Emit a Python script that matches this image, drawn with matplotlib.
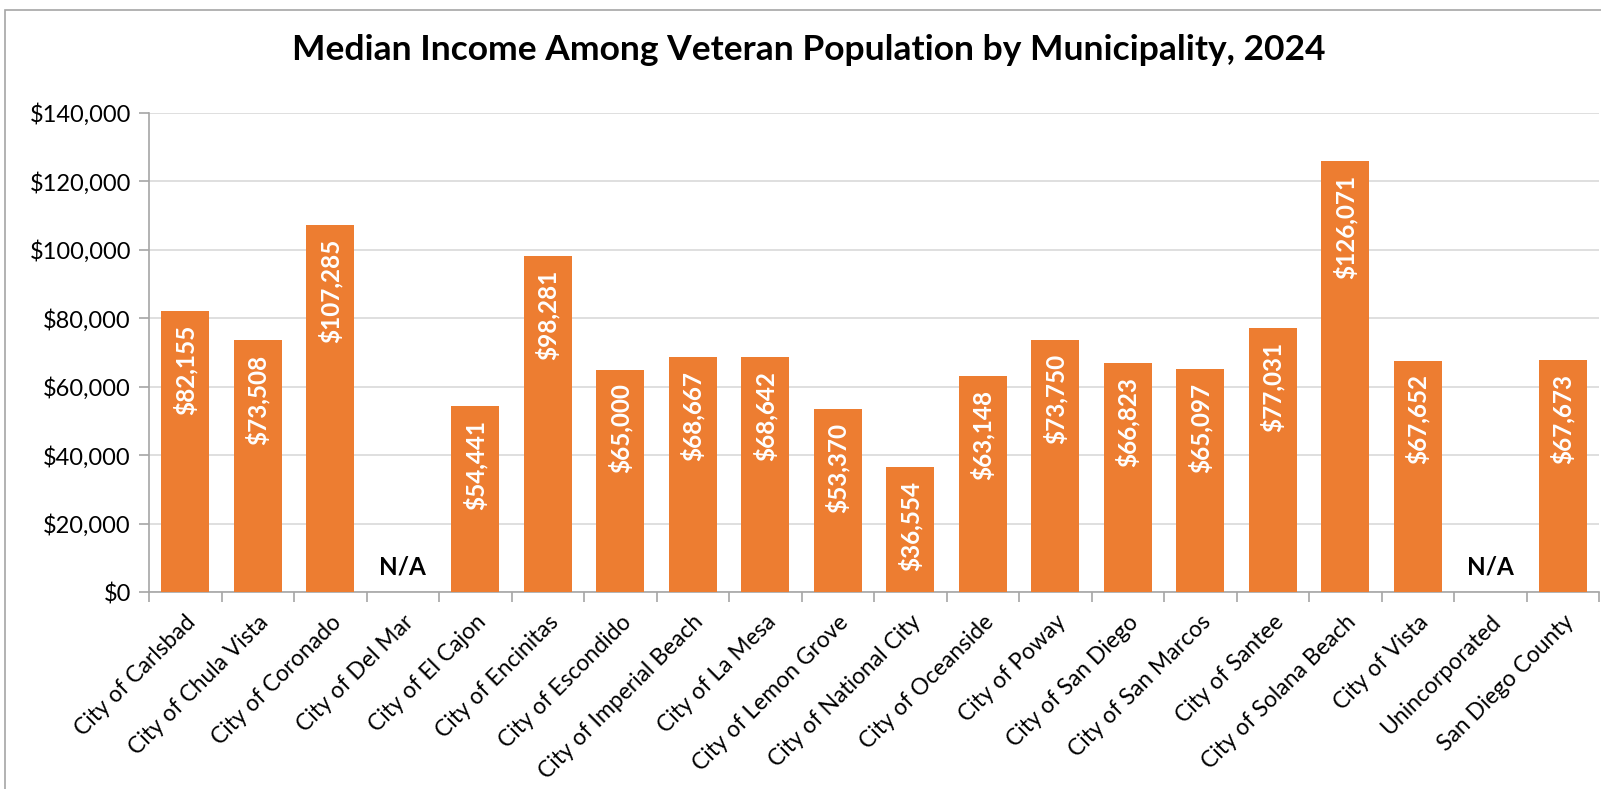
import numpy as np
import matplotlib.pyplot as plt
import matplotlib.ticker as mticker
from matplotlib.patches import Rectangle

plt.rcParams['font.family'] = ['Lato', 'DejaVu Sans']

places = ["City of Carlsbad", "City of Chula Vista", "City of Coronado", "City of Del Mar",
          "City of El Cajon", "City of Encinitas", "City of Escondido", "City of Imperial Beach",
          "City of La Mesa", "City of Lemon Grove", "City of National City", "City of Oceanside",
          "City of Poway", "City of San Diego", "City of San Marcos", "City of Santee",
          "City of Solana Beach", "City of Vista", "Unincorporated", "San Diego County"]
income = [82155, 73508, 107285, np.nan, 54441, 98281, 65000, 68667, 68642, 53370,
          36554, 63148, 73750, 66823, 65097, 77031, 126071, 67652, np.nan, 67673]

fig = plt.figure(figsize=(16.01, 7.89), dpi=100)
ax = fig.add_axes([149/1601, 197/789, 1450/1601, 479/789])

x = np.arange(len(places))
vals = np.nan_to_num(np.array(income, dtype=float))
ax.bar(x, vals, width=0.66, color='#ED7D31', zorder=3)

for i, v in enumerate(income):
    if np.isnan(v):
        ax.text(i, 4000, "N/A", ha='center', va='bottom', fontsize=17.5, fontweight='bold', color='black')
    else:
        ax.annotate(f"${v:,.0f}", (i, v), xytext=(0, -10), textcoords='offset points',
                    rotation=90, ha='center', va='top', color='white', fontsize=17.5, fontweight='bold')

ax.set_xlim(-0.5, len(places) - 0.5)
ax.set_ylim(0, 140000)
ax.yaxis.set_major_locator(mticker.MultipleLocator(20000))
ax.yaxis.set_major_formatter(mticker.StrMethodFormatter("${x:,.0f}"))
ax.grid(axis='y', color='#D9D9D9', linewidth=1.2, zorder=0)
ax.set_xticks(x)
ax.set_xticklabels(places, rotation=45, ha='right', rotation_mode='anchor', fontsize=16.5)
ax.set_xticks(np.arange(-0.5, len(places)), minor=True)
ax.tick_params(axis='x', which='major', length=0, pad=14)
ax.tick_params(axis='x', which='minor', length=7, color='#A6A6A6', width=1.2)
ax.tick_params(axis='y', length=7, color='#A6A6A6', width=1.2, labelsize=17, pad=6)
for s in ['top', 'right']:
    ax.spines[s].set_visible(False)
for s in ['left', 'bottom']:
    ax.spines[s].set_color('#A6A6A6')
    ax.spines[s].set_linewidth(1.2)

fig.text(0.505, 1 - 50/789, "Median Income Among Veteran Population by Municipality, 2024",
         ha='center', va='center', fontsize=25.5, fontweight='bold')

fig.patches.append(Rectangle((5/1601, -0.1), 1.2, (789 - 10)/789 + 0.1, transform=fig.transFigure,
                             fill=False, edgecolor='#A6A6A6', linewidth=1.2))

fig.savefig('out.png', dpi=100)
